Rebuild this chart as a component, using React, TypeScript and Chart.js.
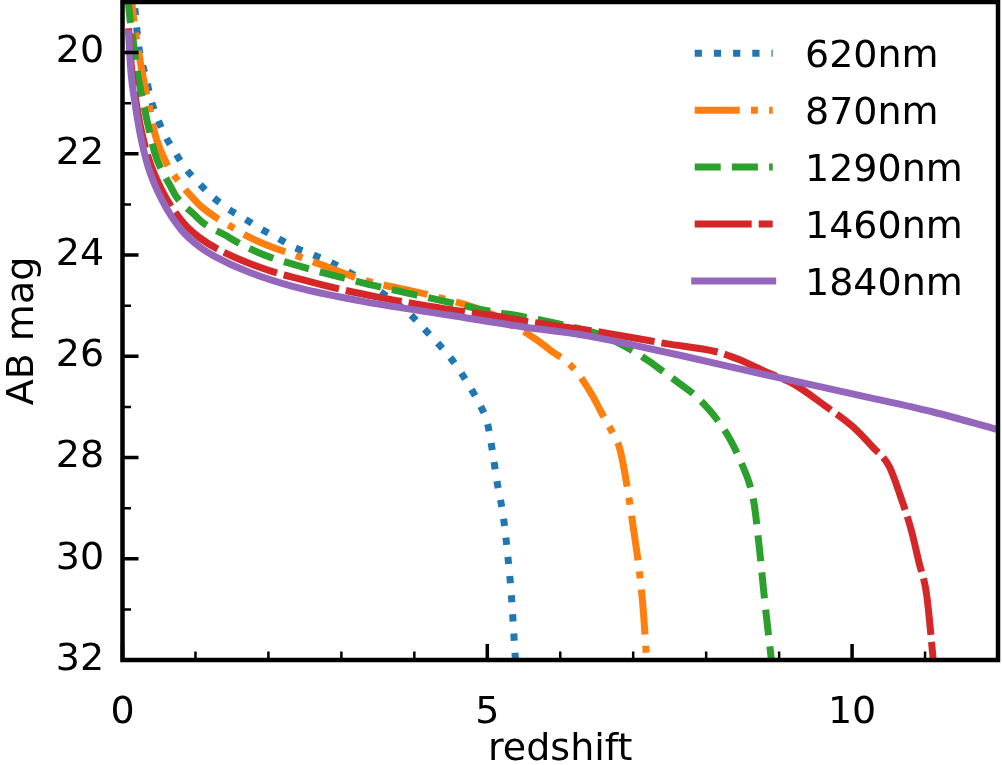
import React, { useEffect, useRef } from 'react';
import { Chart, registerables } from 'chart.js';

Chart.register(...registerables);

const FONT_FAMILY = '"DejaVu Sans", "Liberation Sans", sans-serif';
const FONT_SIZE = 38;

// ---- data ----
const seriesLabels = ['620nm', '870nm', '1290nm', '1460nm', '1840nm'];
const seriesColors = ['#1f77b4', '#ff7f0e', '#2ca02c', '#d62728', '#9467bd'];

const z620 = [0.14, 0.165, 0.19, 0.215, 0.265, 0.33, 0.388, 0.472, 0.58, 0.717, 0.854, 1.04, 1.22, 1.44, 1.66, 1.88, 2.11, 2.34, 2.59, 2.83, 3.07, 3.5, 3.94, 4.13, 4.3, 4.49, 4.62, 4.76, 4.9, 5.0, 5.05, 5.09, 5.13, 5.22, 5.28, 5.33, 5.38, 5.4];
const m620 = [18.75, 19.08, 19.43, 19.8, 20.18, 20.54, 20.92, 21.27, 21.63, 21.96, 22.27, 22.57, 22.83, 23.08, 23.27, 23.47, 23.65, 23.84, 23.98, 24.13, 24.31, 24.69, 25.17, 25.45, 25.71, 26.02, 26.28, 26.6, 26.96, 27.31, 27.69, 28.06, 28.45, 29.17, 29.93, 30.72, 31.87, 32.3];

const z870 = [0.1, 0.134, 0.217, 0.3, 0.377, 0.41, 0.468, 0.6, 0.788, 0.925, 1.085, 1.61, 1.77, 1.975, 2.36, 2.61, 3.3, 4.21, 5.03, 5.35, 5.49, 5.72, 5.9, 6.04, 6.22, 6.34, 6.45, 6.56, 6.72, 6.82, 7.0, 7.13, 7.18, 7.2];
const m870 = [18.5, 19.09, 19.95, 20.62, 21.12, 21.4, 21.72, 22.18, 22.58, 22.81, 23.05, 23.54, 23.67, 23.8, 24.0, 24.13, 24.49, 24.79, 25.15, 25.4, 25.5, 25.72, 25.92, 26.05, 26.3, 26.54, 26.8, 27.1, 27.52, 27.85, 29.37, 30.88, 31.9, 32.3];

const z1290 = [0.075, 0.1, 0.15, 0.2, 0.31, 0.42, 0.47, 0.65, 0.74, 0.99, 1.11, 1.4, 1.54, 1.86, 2.04, 2.5, 3.0, 3.5, 4.0, 4.5, 5.0, 5.5, 5.95, 6.3, 6.6, 6.75, 6.98, 7.2, 7.41, 7.6, 7.87, 8.05, 8.2, 8.35, 8.48, 8.6, 8.66, 8.73, 8.8, 8.87, 8.91];
const m1290 = [18.9, 19.3, 19.8, 20.35, 21.17, 21.86, 22.1, 22.62, 22.85, 23.21, 23.37, 23.6, 23.72, 23.95, 24.05, 24.25, 24.44, 24.62, 24.78, 24.94, 25.1, 25.22, 25.35, 25.47, 25.6, 25.7, 25.88, 26.08, 26.3, 26.5, 26.8, 27.07, 27.35, 27.7, 28.1, 28.55, 28.94, 29.8, 30.8, 31.7, 32.2];

const z1460 = [0.085, 0.1, 0.12, 0.165, 0.24, 0.35, 0.54, 0.81, 1.06, 1.4, 2.0, 2.5, 3.0, 3.5, 4.0, 4.5, 5.0, 5.5, 6.0, 6.54, 7.45, 8.14, 8.46, 8.82, 9.19, 9.65, 10.01, 10.28, 10.51, 10.65, 10.81, 10.92, 11.02, 11.11, 11.13];
const m1460 = [19.52, 19.85, 20.25, 20.78, 21.42, 22.06, 22.72, 23.32, 23.66, 23.95, 24.3, 24.5, 24.68, 24.83, 24.96, 25.08, 25.18, 25.3, 25.41, 25.52, 25.75, 25.91, 26.07, 26.31, 26.54, 27.0, 27.39, 27.79, 28.18, 28.71, 29.43, 30.09, 30.69, 31.97, 32.3];

const z1840 = [0.085, 0.1, 0.12, 0.165, 0.24, 0.35, 0.54, 0.81, 1.06, 1.27, 1.72, 2.36, 3.35, 4.49, 5.5, 6.27, 6.54, 7.0, 7.64, 8.83, 10.19, 11.11, 12.0];
const m1840 = [19.62, 20.05, 20.45, 20.94, 21.59, 22.25, 22.91, 23.51, 23.84, 24.03, 24.33, 24.63, 24.93, 25.19, 25.42, 25.57, 25.64, 25.78, 25.98, 26.37, 26.8, 27.1, 27.45];

const seriesZ = [z620, z870, z1290, z1460, z1840];
const seriesM = [m620, m870, m1290, m1460, m1840];

const xMajorTicks = [0, 5, 10];
const xMinorTicks = [1, 2, 3, 4, 6, 7, 8, 9, 11];
const yMajorTicks = [20, 22, 24, 26, 28, 30, 32];
const yMinorTicks = [19, 21, 23, 25, 27, 29, 31];

const xTitle = 'redshift';
const yTitle = 'AB mag';

// ---- styles ----
const LW = 7;
const dashes: number[][] = [
  [7.2, 12],
  [45, 11.2, 7, 11.2],
  [26, 11.2],
  [57, 7],
  [],
];
const caps: CanvasLineCap[] = ['butt', 'butt', 'butt', 'butt', 'square'];

const mplAxesPlugin = {
  id: 'mplAxes',
  afterDatasetsDraw(chart: any) {
    const { ctx, chartArea: a, scales } = chart;
    const xs = scales.x;
    const ys = scales.y;
    ctx.save();
    ctx.strokeStyle = '#000';
    ctx.lineCap = 'butt';
    const xt = (vals: number[], len: number, w: number) => {
      ctx.lineWidth = w;
      ctx.beginPath();
      vals.forEach((v) => {
        const px = xs.getPixelForValue(v);
        ctx.moveTo(px, a.bottom);
        ctx.lineTo(px, a.bottom - len);
      });
      ctx.stroke();
    };
    const yt = (vals: number[], len: number, w: number) => {
      ctx.lineWidth = w;
      ctx.beginPath();
      vals.forEach((v) => {
        const py = ys.getPixelForValue(v);
        ctx.moveTo(a.left, py);
        ctx.lineTo(a.left + len, py);
      });
      ctx.stroke();
    };
    xt(xMinorTicks, 8.5, 2.5);
    xt(xMajorTicks, 16, 3.5);
    yt(yMinorTicks, 8.5, 2.5);
    yt(yMajorTicks, 16, 3.5);
    ctx.lineWidth = 4.5;
    ctx.lineJoin = 'miter';
    ctx.strokeRect(a.left, a.top, a.right - a.left, a.bottom - a.top);
    ctx.restore();
  },
  afterDraw(chart: any) {
    const { ctx, chartArea: a } = chart;
    ctx.save();
    const x0 = a.right - 303.3;
    const x1 = a.right - 225.3;
    const tx = a.right - 193;
    seriesLabels.forEach((label, i) => {
      const cy = a.top + 51.3 + i * 56.9;
      ctx.beginPath();
      ctx.strokeStyle = seriesColors[i];
      ctx.lineWidth = LW;
      ctx.lineCap = caps[i];
      ctx.setLineDash(dashes[i]);
      ctx.moveTo(x0, cy);
      ctx.lineTo(x1, cy);
      ctx.stroke();
      ctx.setLineDash([]);
      ctx.fillStyle = '#000';
      ctx.font = `${FONT_SIZE}px ${FONT_FAMILY}`;
      ctx.textAlign = 'left';
      ctx.textBaseline = 'alphabetic';
      ctx.fillText(label, tx, cy + 0.3645 * FONT_SIZE);
    });
    ctx.restore();
  },
};

export default function App() {
  const canvasRef = useRef<HTMLCanvasElement | null>(null);

  useEffect(() => {
    const canvas = canvasRef.current;
    if (!canvas) return;
    const datasets = seriesLabels.map((label, i) => ({
      label,
      data: seriesZ[i].map((z, j) => ({ x: z, y: seriesM[i][j] })),
      borderColor: seriesColors[i],
      backgroundColor: seriesColors[i],
      borderWidth: LW,
      borderDash: dashes[i],
      borderCapStyle: caps[i],
      borderJoinStyle: 'round' as const,
      pointRadius: 0,
      pointHoverRadius: 0,
      cubicInterpolationMode: 'monotone' as const,
      fill: false,
      clip: 0,
      order: seriesLabels.length - 1 - i,
    }));

    const tickFont = { family: FONT_FAMILY, size: FONT_SIZE, lineHeight: 1 };

    const chart = new Chart(canvas, {
      type: 'line',
      data: { datasets },
      options: {
        animation: false,
        responsive: false,
        maintainAspectRatio: false,
        events: [],
        layout: { autoPadding: false, padding: { left: 0, right: 4, top: 2, bottom: 0 } },
        plugins: {
          legend: { display: false },
          tooltip: { enabled: false },
        },
        scales: {
          x: {
            type: 'linear',
            min: 0,
            max: 12,
            grid: { display: false, drawTicks: false },
            border: { display: false },
            afterBuildTicks: (scale: any) => {
              scale.ticks = xMajorTicks.map((v) => ({ value: v }));
            },
            afterFit: (scale: any) => {
              scale.height = 105;
              scale.paddingLeft = 0;
              scale.paddingRight = 0;
            },
            ticks: {
              color: '#000',
              font: tickFont,
              padding: 33.7,
              maxRotation: 0,
              autoSkip: false,
              callback: (v: any) => String(v),
            },
            title: {
              display: true,
              text: xTitle,
              color: '#000',
              font: tickFont,
              padding: { top: 0, bottom: -4 },
            },
          },
          y: {
            type: 'linear',
            min: 19,
            max: 32,
            reverse: true,
            grid: { display: false, drawTicks: false },
            border: { display: false },
            afterBuildTicks: (scale: any) => {
              scale.ticks = yMajorTicks.map((v) => ({ value: v }));
            },
            afterFit: (scale: any) => {
              scale.width = 122.5;
              scale.paddingTop = 0;
              scale.paddingBottom = 0;
            },
            ticks: {
              color: '#000',
              font: tickFont,
              padding: 18.3,
              autoSkip: false,
              callback: (v: any) => String(v),
            },
            title: {
              display: true,
              text: yTitle,
              color: '#000',
              font: tickFont,
              padding: { top: 4.6, bottom: 0 },
            },
          },
        },
      },
      plugins: [mplAxesPlugin],
    } as any);

    return () => {
      chart.destroy();
    };
  }, []);

  return (
    <div style={{ position: 'absolute', left: 0, top: 0, width: 1002, height: 765, background: '#fff' }}>
      <canvas ref={canvasRef} width={1002} height={765} style={{ display: 'block', width: 1002, height: 765 }} />
    </div>
  );
}
